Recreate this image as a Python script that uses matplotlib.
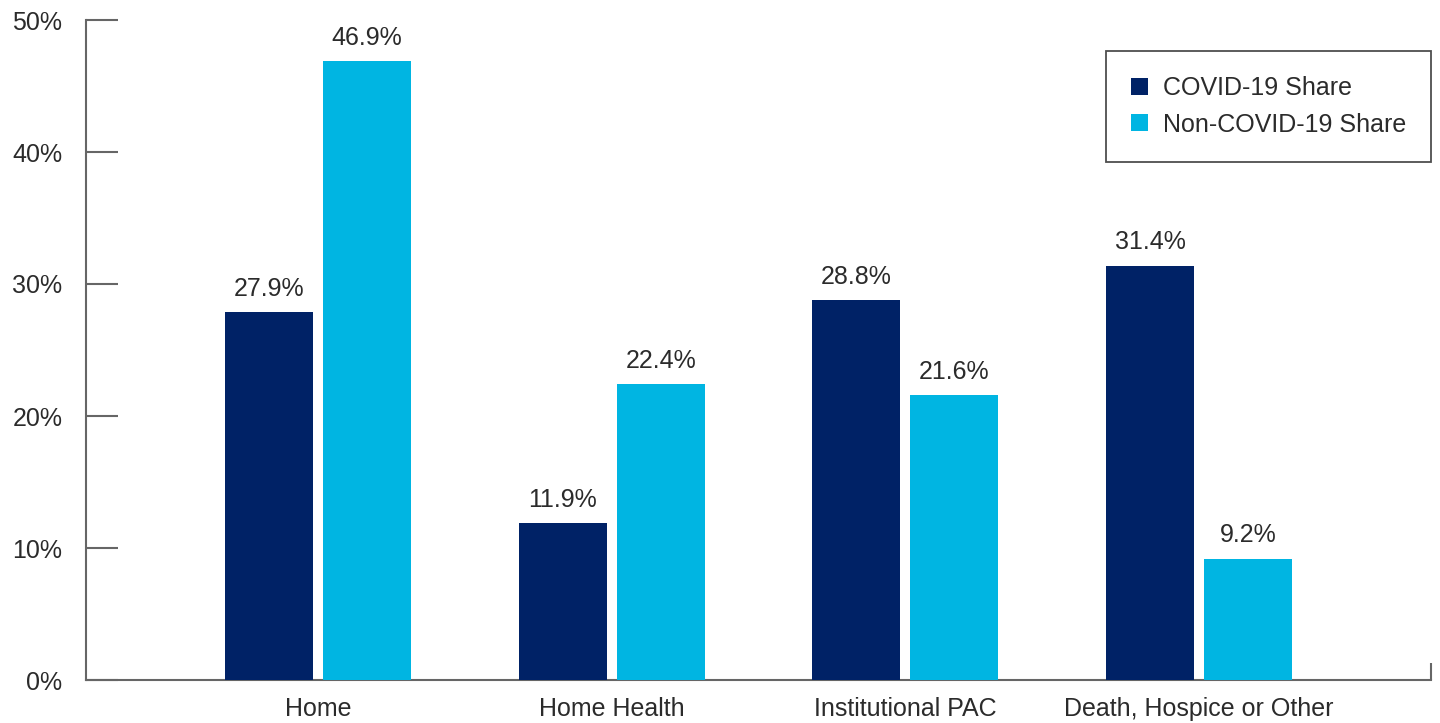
import matplotlib
matplotlib.use("Agg")
import matplotlib.pyplot as plt
import numpy as np

categories = ["Home", "Home Health", "Institutional PAC", "Death, Hospice or Other"]
covid_share = [27.9, 11.9, 28.8, 31.4]
non_covid_share = [46.9, 22.4, 21.6, 9.2]
series_names = ["COVID-19 Share", "Non-COVID-19 Share"]
y_ticks = [0, 10, 20, 30, 40, 50]

plt.rcParams['font.family'] = ['Liberation Sans', 'DejaVu Sans']
TEXT = '#2b2b2b'
SPINE = '#666666'
NAVY = '#002266'
CYAN = '#00b5e2'

fig = plt.figure(figsize=(14.4, 7.23), dpi=100)
ax = fig.add_axes([86/1440, 1-680/723, (1431-86)/1440, (680-20)/723])

x = np.arange(len(categories))
w = 0.30
off = 0.167
b1 = ax.bar(x - off, covid_share, w, color=NAVY, label=series_names[0], zorder=3)
b2 = ax.bar(x + off, non_covid_share, w, color=CYAN, label=series_names[1], zorder=3)

for bars, vals in ((b1, covid_share), (b2, non_covid_share)):
    for r, v in zip(bars, vals):
        ax.annotate(f"{v:.1f}%", (r.get_x() + r.get_width()/2, v),
                    xytext=(0, 8), textcoords='offset points',
                    ha='center', va='bottom', fontsize=18, color=TEXT)

ax.set_xlim(-0.79, 3.79)
ax.set_ylim(0, 50)
ax.set_yticks(y_ticks)
ax.set_yticklabels([f"{t}%" for t in y_ticks])
ax.set_xticks(x)
ax.set_xticklabels(categories)

ax.tick_params(axis='y', direction='in', length=23, width=1.5, color=SPINE,
               labelsize=18, labelcolor=TEXT, pad=17)
ax.tick_params(axis='x', length=0, labelsize=18, labelcolor=TEXT, pad=12)

for s in ('top', 'right'):
    ax.spines[s].set_visible(False)
for s in ('left', 'bottom'):
    ax.spines[s].set_color(SPINE)
    ax.spines[s].set_linewidth(1.5)
    ax.spines[s].set_zorder(2)

# small end tick at right end of x axis
ax.plot([1, 1], [0, 0.026], transform=ax.transAxes, color=SPINE, lw=1.5,
        clip_on=False, solid_capstyle='butt')

leg = ax.legend(loc='upper right', bbox_to_anchor=(1.0, 0.953), fontsize=18,
                frameon=True, fancybox=False, edgecolor='#222222',
                handlelength=0.68, handleheight=0.68, handletextpad=0.6,
                labelspacing=0.5, borderpad=1.0, borderaxespad=0)
leg.get_frame().set_linewidth(1.3)
for t in leg.get_texts():
    t.set_color(TEXT)

fig.savefig("out.png", dpi=100)
